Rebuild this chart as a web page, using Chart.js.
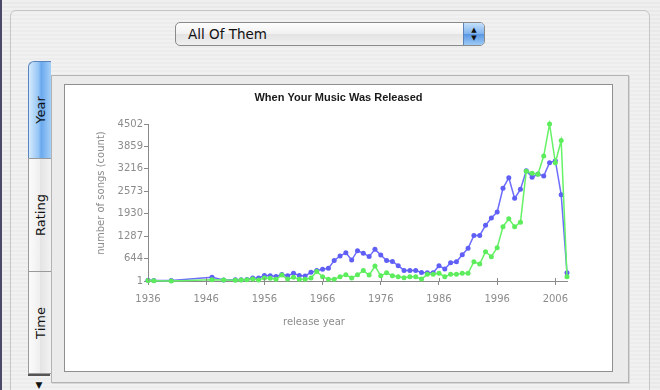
<!DOCTYPE html>
<html>
<head>
<meta charset="utf-8">
<script src="https://cdn.jsdelivr.net/npm/chart.js@4.4.1/dist/chart.umd.min.js"></script>
<style>
  html, body { margin: 0; padding: 0; }
  body {
    width: 660px; height: 390px; overflow: hidden; position: relative;
    background: repeating-linear-gradient(180deg, #efefef 0 2px, #e9e9e9 2px 4px);
    font-family: "DejaVu Sans", sans-serif;
  }
  .edge { position: absolute; left: 0; top: 0; width: 2px; height: 390px; background: #4a4a68; }
  .group {
    position: absolute; left: 10px; top: 10px; width: 638px; height: 400px;
    border: 1px solid #c6c6c6; border-radius: 6px; background: rgba(255,255,255,0.15);
  }
  .popup {
    position: absolute; left: 175px; top: 22px; width: 308px; height: 22px;
    border: 1px solid #8a8a8a; border-radius: 5px; overflow: hidden;
    background: linear-gradient(#fdfdfd, #f1f1f1 50%, #e3e3e3 50%, #efefef);
    font-size: 13.5px; line-height: 22px; color: #111;
  }
  .popup span { position: absolute; left: 12px; top: 0; }
  .stepper {
    position: absolute; right: 0; top: 0; width: 21px; height: 22px;
    border-left: 1px solid #5d83b8;
    background: linear-gradient(#c4e0fb, #7fb3ee 50%, #5796e3 50%, #9ccaf6);
    font-size: 7px; line-height: 8px; text-align: center; color: #111; padding-top: 3px; box-sizing: border-box;
  }
  .tab {
    position: absolute; left: 28px; width: 22px; border: 1px solid #9a9a9a; border-right: none;
    background: linear-gradient(90deg, #fbfbfb, #efefef 50%, #e4e4e4 50%, #f2f2f2);
  }
  .tab span {
    position: absolute; left: 50%; top: 50%; transform: translate(-50%, -50%) rotate(-90deg);
    font-size: 13px; color: #111; white-space: nowrap;
  }
  .tab.sel {
    background: linear-gradient(90deg, #d3eafe, #93c4f5 45%, #69a8ee 55%, #a6d1f8);
    border-color: #5a84bd; border-radius: 6px 0 0 0;
  }
  .arrow { position: absolute; left: 28px; top: 374px; width: 22px; height: 16px; border-top: 2px solid #555;
    font-size: 9px; text-align: center; line-height: 18px; color: #111; }
  .tabbox {
    position: absolute; left: 51px; top: 75px; width: 576px; height: 306px;
    border: 1px solid #b3b3b3; background: #ebebeb;
    box-shadow: 1px 1px 0 #d6d6d6;
  }
  .panel {
    position: absolute; left: 64px; top: 84px; width: 549px; height: 288px;
    background: #fff; box-shadow: inset 0 0 0 1px #8f8f8f;
  }
  .panel canvas { position: absolute; left: 0; top: 0; }
</style>
</head>
<body>
<div class="edge"></div>
<div class="group"></div>
<div class="popup"><span>All Of Them</span><div class="stepper">▲<br>▼</div></div>
<div class="tabbox"></div>
<div class="tab sel" style="top:61px;height:96px;"><span>Year</span></div>
<div class="tab" style="top:158px;height:112px;"><span>Rating</span></div>
<div class="tab" style="top:271px;height:101px;"><span>Time</span></div>
<div class="arrow">▼</div>
<div class="panel"><canvas id="chart" width="549" height="288"></canvas></div>

<script>
// Data
const years = [1936, 1937, 1940, 1947, 1949, 1951, 1952, 1953, 1954, 1955,
  1956, 1957, 1958, 1959, 1960, 1961, 1962, 1963, 1964, 1965,
  1966, 1967, 1968, 1969, 1970, 1971, 1972, 1973, 1974, 1975,
  1976, 1977, 1978, 1979, 1980, 1981, 1982, 1983, 1984, 1985,
  1986, 1987, 1988, 1989, 1990, 1991, 1992, 1993, 1994, 1995,
  1996, 1997, 1998, 1999, 2000, 2001, 2002, 2003, 2004, 2005,
  2006, 2007, 2008];

const blueCounts = [20, 15, 12, 110, 30, 35, 40, 45, 85, 90,
  160, 155, 130, 185, 155, 220, 160, 145, 250, 300,
  340, 363, 588, 717, 812, 602, 870, 800, 700, 908,
  745, 590, 560, 440, 305, 305, 305, 243, 240, 240,
  440, 345, 526, 554, 755, 937, 1309, 1309, 1596, 1806,
  1978, 2657, 2963, 2370, 2628, 3163, 2972, 3068, 3010, 3393,
  3450, 2475, 239];

const greenCounts = [12, 10, 1, 40, 30, 25, 30, 35, 55, 30,
  90, 80, 50, 172, 55, 105, 48, 48, 86, 272,
  124, 52, 52, 120, 180, 90, 177, 300, 172, 430,
  150, 235, 153, 124, 96, 124, 124, 57, 191, 191,
  220, 124, 191, 191, 220, 220, 554, 487, 841, 698,
  956, 1558, 1787, 1558, 1682, 3150, 3087, 3060, 3584, 4502,
  3390, 4030, 124];

const xTicks = [1936, 1946, 1956, 1966, 1976, 1986, 1996, 2006];
const yTicks = [1, 644, 1287, 1930, 2573, 3216, 3859, 4502];

const chartTitle = 'When Your Music Was Released';
const xTitle = 'release year';
const yTitle = 'number of songs (count)';

const axisGray = '#8a8a8a';
const labelGray = '#8c8c8c';

// axis titles + tick marks crossing the x axis
const axisExtras = {
    id: 'axisExtras',
    afterDraw(chart) {
        const { ctx, chartArea } = chart;
        const x = chart.scales.x;
        ctx.save();
        ctx.strokeStyle = axisGray;
        ctx.lineWidth = 1;
        xTicks.forEach(v => {
            const px = Math.round(x.getPixelForValue(v)) + 0.5;
            ctx.beginPath();
            ctx.moveTo(px, chartArea.bottom - 3);
            ctx.lineTo(px, chartArea.bottom);
            ctx.stroke();
        });
        ctx.fillStyle = labelGray;
        ctx.font = '10px "DejaVu Sans"';
        ctx.textAlign = 'center';
        ctx.textBaseline = 'middle';
        ctx.fillText(xTitle, chartArea.left + 166, chartArea.bottom + 41);
        ctx.translate(chartArea.left - 47, chartArea.top + 69);
        ctx.rotate(-Math.PI / 2);
        ctx.fillText(yTitle, 0, 0);
        ctx.restore();
    }
};

const toPoints = arr => years.map((y, i) => ({ x: y, y: arr[i] }));

new Chart(document.getElementById('chart'), {
    type: 'line',
    data: {
        datasets: [{
            label: 'green',
            data: toPoints(greenCounts),
            borderColor: '#66f266',
            backgroundColor: '#5cec5c',
            borderWidth: 1.5,
            pointRadius: 2.5,
            pointBorderWidth: 0,
            clip: false,
            order: 0
        }, {
            label: 'blue',
            data: toPoints(blueCounts),
            borderColor: '#6c6cff',
            backgroundColor: '#5f5ff5',
            borderWidth: 1.5,
            pointRadius: 2.5,
            pointBorderWidth: 0,
            clip: false,
            order: 1
        }]
    },
    options: {
        responsive: false,
        animation: false,
        devicePixelRatio: 1,
        layout: {
            padding: { left: 0, right: 0, top: 0, bottom: 51 }
        },
        plugins: {
            legend: { display: false },
            tooltip: { enabled: false },
            title: {
                display: true,
                text: chartTitle,
                color: '#1a1a1a',
                font: { family: 'Liberation Sans', size: 11, weight: 'bold', lineHeight: 1.2 },
                padding: { top: 7, bottom: 19.8 }
            }
        },
        scales: {
            x: {
                type: 'linear',
                min: 1936,
                max: 2008,
                afterBuildTicks: s => { s.ticks = xTicks.map(v => ({ value: v })); },
                afterFit: s => { s.height = 40; },
                grid: { display: true, drawOnChartArea: false, tickLength: 4, color: axisGray },
                border: { display: true, color: axisGray, width: 1 },
                ticks: {
                    color: labelGray,
                    padding: 8,
                    maxRotation: 0,
                    font: { family: 'DejaVu Sans', size: 10 },
                    callback: v => String(v)
                }
            },
            y: {
                min: 1,
                max: 4502,
                afterBuildTicks: s => { s.ticks = yTicks.map(v => ({ value: v })); },
                afterFit: s => { s.width = 84; },
                grid: { display: true, drawOnChartArea: false, tickLength: 4, color: axisGray },
                border: { display: true, color: axisGray, width: 1 },
                ticks: {
                    color: labelGray,
                    padding: 1,
                    font: { family: 'DejaVu Sans', size: 10 },
                    callback: v => String(v)
                }
            },
            // empty right-hand axis, only reserves the margin right of the plot
            yRight: {
                position: 'right',
                min: 1,
                max: 4502,
                afterFit: s => { s.width = 46; },
                grid: { display: false },
                border: { display: false },
                ticks: { display: false }
            }
        }
    },
    plugins: [axisExtras]
});
</script>
</body>
</html>
